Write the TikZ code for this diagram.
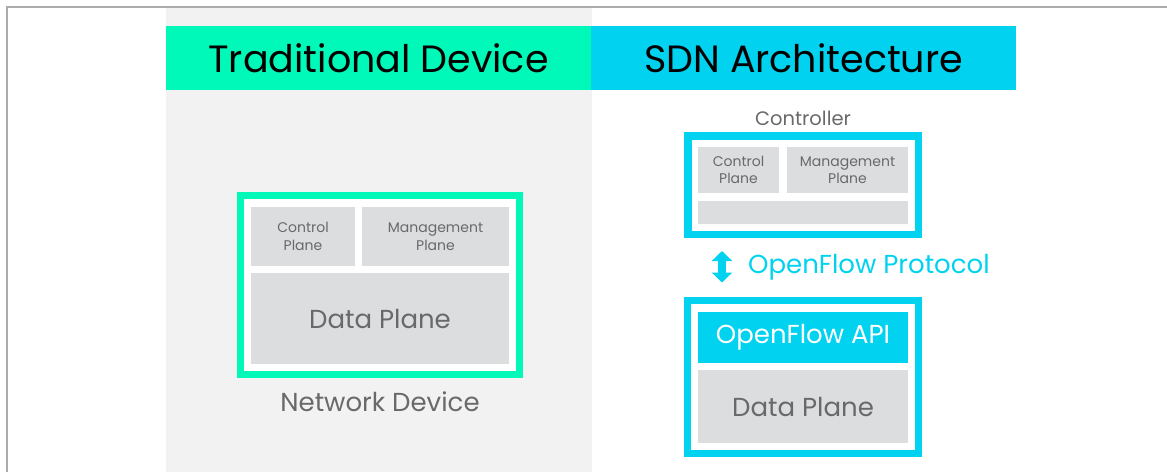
\documentclass[tikz,border=0pt]{standalone}
\usepackage{fontspec}
\setmainfont{Poppins}
\usetikzlibrary{arrows.meta, positioning}
\definecolor{mint}{RGB}{0, 249, 185}
\definecolor{sky}{RGB}{0, 210, 239}
\definecolor{panel}{RGB}{242, 242, 242}
\definecolor{plane}{RGB}{220, 221, 223}
\definecolor{inktext}{RGB}{105, 105, 105}

\begin{document}
\begin{tikzpicture}[
        x=1pt, y=-1pt,
        header/.style={rectangle, inner sep=0pt, minimum width=425pt,
                       minimum height=64pt, font=\fontsize{38}{40}\selectfont},
        frame/.style={rectangle, fill=white, inner sep=0pt},
        planebox/.style={rectangle, fill=plane, inner sep=0pt, align=center,
                         text=inktext},
        small/.style={font=\fontsize{14}{17.5}\selectfont},
        big/.style={font=\fontsize{26}{28}\selectfont},
        label/.style={text=inktext, inner sep=0pt},
        updown/.style={{Triangle[width=20pt, length=10pt]}-{Triangle[width=20pt, length=10pt]},
                       line width=8pt, sky},
    ]
        \useasboundingbox (0,0) rectangle (1167,472);
        % outer page edge and the shaded half
        \fill[panel] (166,8) rectangle (592,472);
        \draw[gray!65, line width=2pt] (1167,7) -- (7,7) -- (7,472);

        \node[header, fill=mint] (trad) at (378.5,58) {Traditional Device};
        \node[header, fill=sky] (sdn) at (803.5,58) {SDN Architecture};

        % traditional box
        \node[frame, draw=mint, line width=7pt, minimum width=279pt, minimum height=179pt] (netdev) at (380,285) {};
        \node[planebox, small, minimum width=104pt, minimum height=59pt] (tcp) at (303,236.5) {Control\\Plane};
        \node[planebox, small, minimum width=147pt, minimum height=59pt] (tmp) at (435.5,236.5) {Management\\Plane};
        \node[planebox, big, minimum width=258pt, minimum height=91pt] (tdp) at (380,318.5) {Data Plane};
        \node[label, font=\fontsize{26}{28}\selectfont, below=14pt of netdev] (netlbl) {Network Device};

        % sdn controller
        \node[frame, draw=sky, line width=7.5pt, minimum width=230.5pt, minimum height=98.5pt] (ctrl) at (803,185) {};
        \node[label, font=\fontsize{19.5}{22}\selectfont, above=6pt of ctrl] (ctrllbl) {Controller};
        \node[planebox, small, minimum width=81pt, minimum height=46pt] (scp) at (738.5,170) {Control\\Plane};
        \node[planebox, small, minimum width=121pt, minimum height=46pt] (smp) at (847.5,170) {Management\\Plane};
        \node[planebox, minimum width=210pt, minimum height=23pt] (sbar) at (803,212.5) {};

        % switch
        \node[frame, draw=sky, line width=7pt, minimum width=231pt, minimum height=153pt] (sw) at (803,377) {};
        \node[planebox, big, fill=sky, text=white, minimum width=210pt, minimum height=51pt] (api) at (803,337.5) {OpenFlow API};
        \node[planebox, big, minimum width=210pt, minimum height=73pt] (sdp) at (803,406.5) {Data Plane};

        \draw[updown, shorten <=13pt, shorten >=14.5pt] ([xshift=-81pt]ctrl.south) -- ([xshift=-81pt]sw.north);
        \node[anchor=west, inner sep=0pt, text=sky, font=\fontsize{26}{28}\selectfont] (proto) at (748,267) {OpenFlow Protocol};

    \end{tikzpicture}
\end{document}
